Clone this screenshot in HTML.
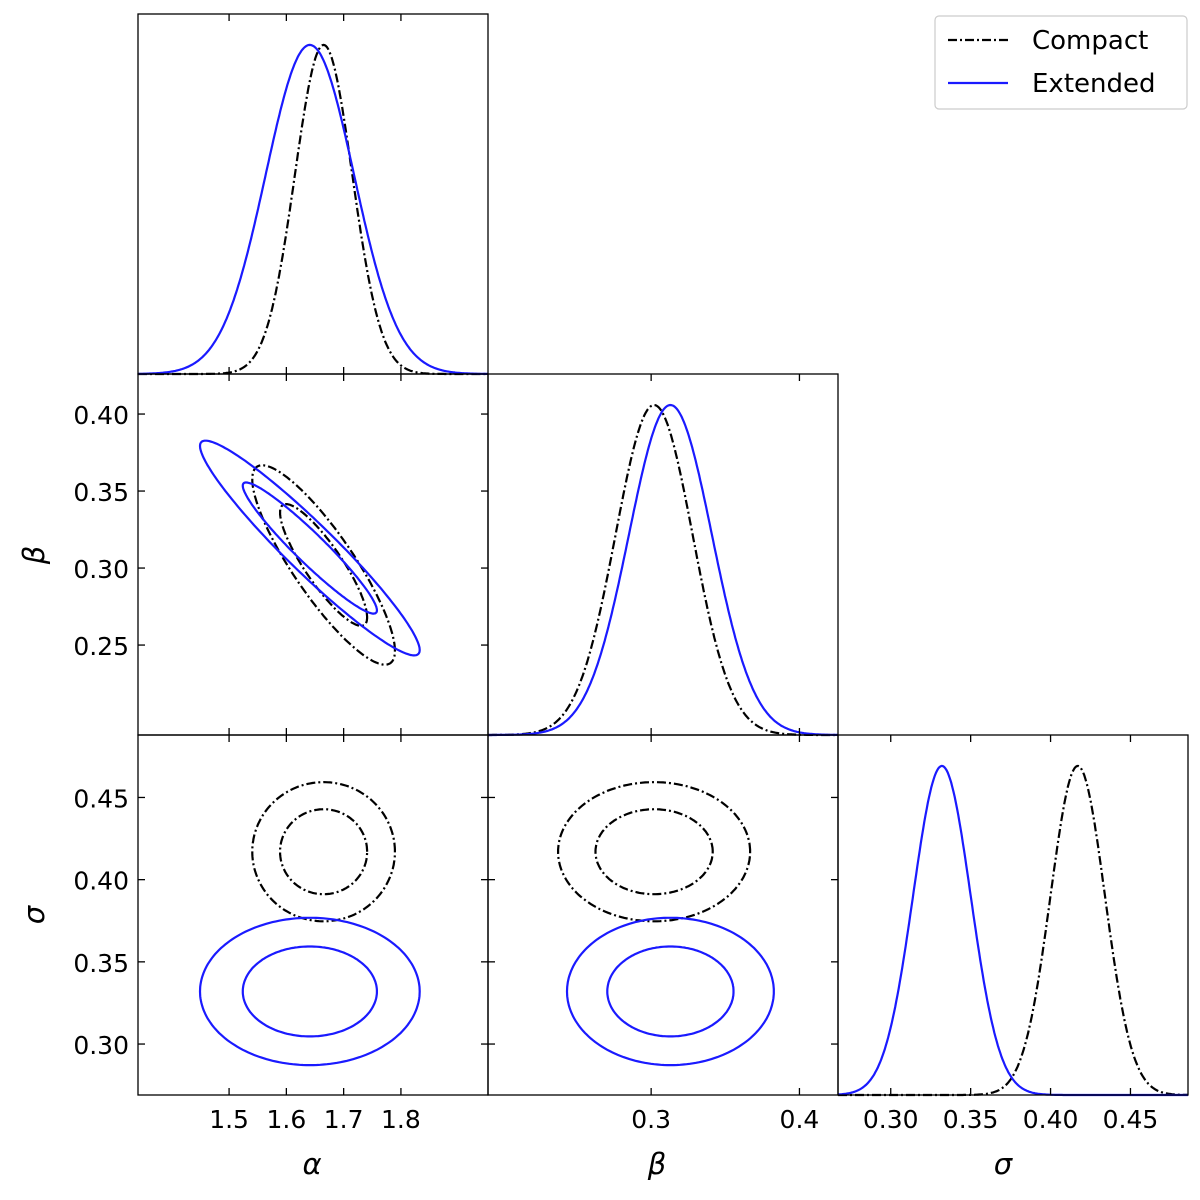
<!DOCTYPE html>
<html><head><meta charset="utf-8"><style>
body{margin:0;background:#fff;overflow:hidden}
svg{font-family:"DejaVu Sans","Liberation Sans",sans-serif;display:block}
</style></head><body>
<svg id="c" width="1200" height="1200" xmlns="http://www.w3.org/2000/svg"></svg>
<script>
const params = ['alpha','beta','sigma'];
const seriesNames = ['Compact','Extended'];
const compactMeans = [1.665, 0.302, 0.417];
const compactSds = [0.05, 0.026, 0.017];
const extendedMeans = [1.641, 0.313, 0.332];
const extendedSds = [0.077, 0.028, 0.018];
const compactRho = {'alpha-beta': -0.86, 'alpha-sigma': 0.0, 'beta-sigma': 0.0};
const extendedRho = {'alpha-beta': -0.95, 'alpha-sigma': 0.0, 'beta-sigma': 0.0};
const contourRadii = [1.52, 2.49];
const alphaTicks = [1.5, 1.6, 1.7, 1.8];
const betaXTicks = [0.3, 0.4];
const betaYTicks = [0.25, 0.30, 0.35, 0.40];
const sigmaXTicks = [0.30, 0.35, 0.40, 0.45];
const sigmaYTicks = [0.30, 0.35, 0.40, 0.45];

const NS='http://www.w3.org/2000/svg';
const svg=document.getElementById('c');
function el(t,a,p){const e=document.createElementNS(NS,t);for(const k in a)e.setAttribute(k,a[k]);(p||svg).appendChild(e);return e;}
const cols=[138,488,838,1188], rows=[14,374,735,1095];
const xRange=[[1.341,1.952],[0.190,0.426],[0.267,0.486]];
const yRange={1:[0.1916,0.426],2:[0.269,0.488]};
function sx(i,v){return cols[i]+(v-xRange[i][0])/(xRange[i][1]-xRange[i][0])*(cols[i+1]-cols[i]);}
function sy(j,v){const r=yRange[j];return rows[j+1]-(v-r[0])/(r[1]-r[0])*(rows[j+1]-rows[j]);}
const colors=['#000','#1a1aff'];
const dash=['9,3,2,3',null];
const means=[compactMeans,extendedMeans], sds=[compactSds,extendedSds], rhos=[compactRho,extendedRho];
function line(d,s,g,name){const a={d:d,fill:'none',stroke:colors[s],'stroke-width':2.2};if(dash[s])a['stroke-dasharray']=dash[s];const p=el('path',a,g);}
for(let i=0;i<3;i++){
  const g=el('g',{});
  const top=rows[i],bot=rows[i+1];
  for(let s=0;s<2;s++){
    let d='';
    for(let k=0;k<=300;k++){const v=xRange[i][0]+(xRange[i][1]-xRange[i][0])*k/300;
      const f=Math.exp(-0.5*Math.pow((v-means[s][i])/sds[s][i],2));
      const y=bot-f/1.094*(bot-top);d+=(k?'L':'M')+sx(i,v).toFixed(1)+','+y.toFixed(1);}
    line(d,s,g,seriesNames[s].toLowerCase()+'-'+params[i]+'-pdf');
  }
}
for(let j=1;j<3;j++)for(let i=0;i<j;i++){
  const key=params[i]+'-'+params[j];
  const g=el('g',{});
  for(let s=0;s<2;s++)for(const r of contourRadii){
    let d='';const rho=rhos[s][key];
    for(let k=0;k<=200;k++){const t=2*Math.PI*k/200;
      const vx=means[s][i]+sds[s][i]*r*Math.cos(t);
      const vy=means[s][j]+sds[s][j]*r*(rho*Math.cos(t)+Math.sqrt(1-rho*rho)*Math.sin(t));
      d+=(k?'L':'M')+sx(i,vx).toFixed(1)+','+sy(j,vy).toFixed(1);}
    line(d+'Z',s,g,seriesNames[s].toLowerCase()+'-'+key+'-contour');
  }
}
const xT=[alphaTicks,betaXTicks,sigmaXTicks], xL=[v=>v.toFixed(1),v=>v.toFixed(1),v=>v.toFixed(2)];
const yT={1:betaYTicks,2:sigmaYTicks};
for(let j=0;j<3;j++)for(let i=0;i<=j;i++){
  const x0=cols[i],x1=cols[i+1],y0=rows[j],y1=rows[j+1];
  const f=el('rect',{x:x0,y:y0,width:x1-x0,height:y1-y0,fill:'none',stroke:'#000','stroke-width':1.3});
  
  for(const v of xT[i]){const x=sx(i,v);
    el('line',{x1:x,x2:x,y1:y1,y2:y1-7,stroke:'#000','stroke-width':1.3});
    el('line',{x1:x,x2:x,y1:y0,y2:y0+7,stroke:'#000','stroke-width':1.3});
    if(j===2){const t=el('text',{x:x,y:1128,'font-size':25,'text-anchor':'middle'});t.textContent=xL[i](v);
      }}
  if(i<j){for(const v of yT[j]){const y=sy(j,v);
    el('line',{x1:x0,x2:x0+7,y1:y,y2:y,stroke:'#000','stroke-width':1.3});
    el('line',{x1:x1,x2:x1-7,y1:y,y2:y,stroke:'#000','stroke-width':1.3});
    if(i===0){const t=el('text',{x:129,y:y+10,'font-size':25,'text-anchor':'end'});t.textContent=v.toFixed(2);
      }}}
}
const labs=[['α',312,1174],['β',657,1174],['σ',1003,1174]];
labs.forEach((l,k)=>{const t=el('text',{x:l[1],y:l[2],'font-size':29,'font-style':'italic','text-anchor':'middle'});t.textContent=l[0];});
[['β',555,'beta'],['σ',915,'sigma']].forEach(l=>{const t=el('text',{x:44,y:l[1],'font-size':29,'font-style':'italic','text-anchor':'middle',transform:'rotate(-90 44 '+l[1]+')'});t.textContent=l[0];});
const lg=el('g',{});
el('rect',{x:935,y:16,width:252,height:93,rx:4,fill:'#fff',stroke:'#ccc','stroke-width':1.2},lg);
seriesNames.forEach((n,s)=>{const y=40+s*43;
  line('M948,'+y+'L1008,'+y,s,lg,'legend-line-'+n.toLowerCase());
  const t=el('text',{x:1032,y:y+9,'font-size':26},lg);t.textContent=n;});
</script>
</body></html>
